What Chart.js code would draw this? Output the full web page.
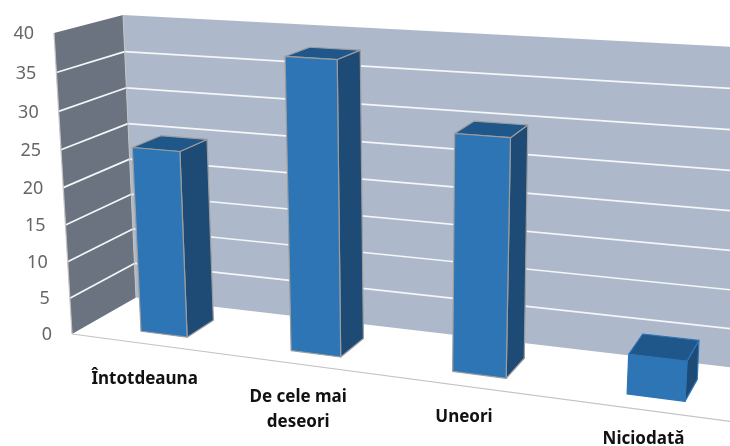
<!DOCTYPE html>
<html lang="ro">
<head>
<meta charset="utf-8">
<title>Chart</title>
<script src="https://cdn.jsdelivr.net/npm/chart.js@4/dist/chart.umd.js"></script>
<style>
    html, body { margin: 0; padding: 0; background: #fff; }
    canvas { display: block; }
</style>
</head>
<body>
<canvas id="barChart" width="730" height="446"></canvas>
<script>
// =============================================
//              DATA
// =============================================
const categories = ['Întotdeauna', ['De cele mai', 'deseori'], 'Uneori', 'Niciodată'];
const values = [25, 38, 30, 5];
const axisMin = 0;
const axisMax = 40;
const axisStep = 5;

// =============================================
//              3D VIEW SETTINGS
// =============================================
// Corners of the box in screen pixels, order: bottom-left, bottom-right, top-right, top-left
const FRONT_PLANE = [[72, 334], [739, 422.5], [762, 73], [54, 33]];
const BACK_PLANE = [[136, 297.5], [762, 371], [777, 49.3], [123, 15]];
const BAR_DEPTH_FRONT = 0.26;
const BAR_DEPTH_BACK = 0.70;
const BAR_SHIFT = 0.006; // bars sit slightly right of the category centre

const COLORS = {
    backWall: '#adb9ca',
    sideWall: '#6b7380',
    grid: '#f4f6f8',
    edge: '#c4c4c4',
    barFront: '#2e75b6',
    barSide: '#1d4b76',
    barTop: '#20578a',
    barEdge: '#9c9c9c',
    tick: '#666666',
    label: '#111111'
};

/**
 * Builds the unit square -> quad projection
 */
function makeHomography(q) {
    const [p0, p1, p2, p3] = q;
    const dx1 = p1[0] - p2[0], dx2 = p3[0] - p2[0], sx = p0[0] - p1[0] + p2[0] - p3[0];
    const dy1 = p1[1] - p2[1], dy2 = p3[1] - p2[1], sy = p0[1] - p1[1] + p2[1] - p3[1];
    const den = dx1 * dy2 - dx2 * dy1;
    const g = (sx * dy2 - dx2 * sy) / den;
    const h = (dx1 * sy - sx * dy1) / den;
    const a = p1[0] - p0[0] + g * p1[0], b = p3[0] - p0[0] + h * p3[0];
    const d = p1[1] - p0[1] + g * p1[1], e = p3[1] - p0[1] + h * p3[1];
    return (u, v) => {
        const w = g * u + h * v + 1;
        return [(a * u + b * v + p0[0]) / w, (d * u + e * v + p0[1]) / w];
    };
}

const frontH = makeHomography(FRONT_PLANE);
const backH = makeHomography(BACK_PLANE);

// u, v in 0..1 along the axes, depth 0 = front, 1 = back wall
function project(u, v, depth) {
    const f = frontH(u, v), b = backH(u, v);
    return [f[0] + (b[0] - f[0]) * depth, f[1] + (b[1] - f[1]) * depth];
}

function fillQuad(ctx, pts, fill, stroke, lineWidth) {
    ctx.beginPath();
    pts.forEach((p, i) => i ? ctx.lineTo(p[0], p[1]) : ctx.moveTo(p[0], p[1]));
    ctx.closePath();
    ctx.fillStyle = fill;
    ctx.fill();
    if (stroke) {
        ctx.strokeStyle = stroke;
        ctx.lineWidth = lineWidth;
        ctx.lineJoin = 'round';
        ctx.stroke();
    }
}

function strokeLine(ctx, a, b, color, lineWidth) {
    ctx.beginPath();
    ctx.moveTo(a[0], a[1]);
    ctx.lineTo(b[0], b[1]);
    ctx.strokeStyle = color;
    ctx.lineWidth = lineWidth;
    ctx.stroke();
}

// =============================================
//              PERSPECTIVE PLUGIN
// =============================================
const perspectivePlugin = {
    id: 'perspective',

    // Walls, grid, axis labels
    beforeDatasetsDraw(chart) {
        const { ctx, chartArea: area, scales } = chart;
        const toV = val => (area.bottom - scales.y.getPixelForValue(val)) / area.height;

        ctx.save();
        fillQuad(ctx, [project(0, 0, 1), project(1, 0, 1), project(1, 1, 1), project(0, 1, 1)], COLORS.backWall);
        fillQuad(ctx, [project(0, 0, 0), project(0, 0, 1), project(0, 1, 1), project(0, 1, 0)], COLORS.sideWall);

        scales.y.ticks.forEach(tick => {
            if (tick.value === axisMin || tick.value === axisMax) return;
            const v = toV(tick.value);
            strokeLine(ctx, project(0, v, 0), project(0, v, 1), COLORS.grid, 1.7);
            strokeLine(ctx, project(0, v, 1), project(1, v, 1), COLORS.grid, 1.7);
        });

        // Floor and left wall edges
        strokeLine(ctx, project(0, 0, 0), project(1, 0, 0), COLORS.edge, 1.2);
        strokeLine(ctx, project(0, 0, 0), project(0, 1, 0), COLORS.edge, 1.2);
        strokeLine(ctx, project(0, 0, 1), project(0, 1, 1), COLORS.edge, 1);

        // Value labels follow the front edge of the side wall
        ctx.font = '18px "Noto Sans"';
        ctx.fillStyle = COLORS.tick;
        ctx.textAlign = 'right';
        ctx.textBaseline = 'middle';
        scales.y.ticks.forEach(tick => {
            const p = project(0, toV(tick.value), 0);
            ctx.fillText(String(tick.value), p[0] - 20, p[1] + 1);
        });

        // Category labels follow the front edge of the floor
        ctx.font = 'bold 17px "Noto Sans"';
        ctx.fillStyle = COLORS.label;
        ctx.textAlign = 'center';
        scales.x.getLabels().forEach((label, i) => {
            const u = (scales.x.getPixelForValue(i) - area.left) / area.width;
            const p = project(u, 0, 0);
            const lines = Array.isArray(label) ? label : [label];
            const baseY = p[1] + 37 - 9 * u;
            lines.forEach((line, k) => ctx.fillText(line, p[0], baseY + k * 25));
        });
        ctx.restore();
    },

    // Bars are read back from the library's own elements
    afterDatasetsDraw(chart) {
        const { ctx, chartArea: area } = chart;
        const bars = chart.getDatasetMeta(0).data;
        const d0 = BAR_DEPTH_FRONT, d1 = BAR_DEPTH_BACK;

        ctx.save();
        bars.forEach((bar, i) => {
            const props = bar.getProps(['x', 'y', 'base', 'width'], true);
            const u0 = (props.x - props.width / 2 - area.left) / area.width + BAR_SHIFT;
            const u1 = (props.x + props.width / 2 - area.left) / area.width + BAR_SHIFT;
            const vTop = (area.bottom - props.y) / area.height;
            const vBase = (area.bottom - props.base) / area.height;
            const edge = values[i] > axisStep ? COLORS.barEdge : COLORS.barFront;

            fillQuad(ctx, [project(u1, vBase, d0), project(u1, vBase, d1), project(u1, vTop, d1), project(u1, vTop, d0)], COLORS.barSide, edge, 1.2);
            fillQuad(ctx, [project(u0, vTop, d0), project(u1, vTop, d0), project(u1, vTop, d1), project(u0, vTop, d1)], COLORS.barTop, edge, 1.2);
            fillQuad(ctx, [project(u0, vBase, d0), project(u1, vBase, d0), project(u1, vTop, d0), project(u0, vTop, d0)], COLORS.barFront, edge, 1.2);
        });
        ctx.restore();
    }
};

// =============================================
//              CHART SETUP
// =============================================
new Chart(document.getElementById('barChart'), {
    type: 'bar',
    data: {
        labels: categories,
        datasets: [{
            data: values,
            backgroundColor: 'rgba(0,0,0,0)', // drawn by the plugin in perspective
            categoryPercentage: 1,
            barPercentage: 0.315
        }]
    },
    options: {
        responsive: false,
        animation: false,
        layout: { padding: 0 },
        plugins: {
            legend: { display: false },
            tooltip: { enabled: false }
        },
        scales: {
            x: { display: false },
            y: { display: false, min: axisMin, max: axisMax, ticks: { stepSize: axisStep } }
        }
    },
    plugins: [perspectivePlugin]
});
</script>
</body>
</html>
